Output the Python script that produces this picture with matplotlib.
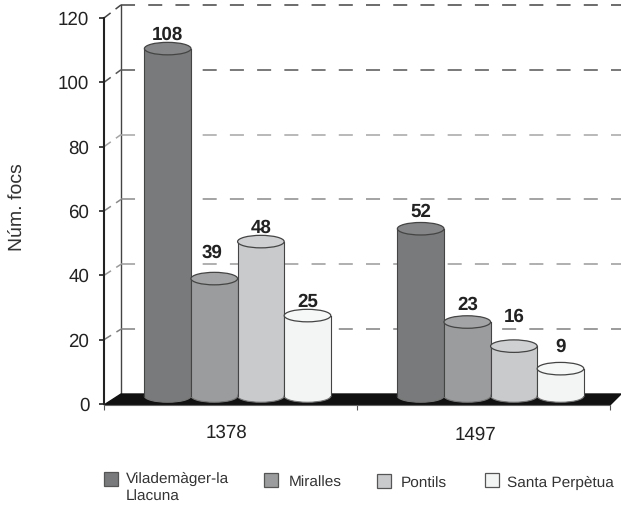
import matplotlib
matplotlib.use("Agg")
import matplotlib.pyplot as plt
from matplotlib.patches import Ellipse, Polygon, Rectangle

plt.rcParams["font.family"] = ["Liberation Sans", "DejaVu Sans"]
plt.rcParams["lines.scale_dashes"] = False
plt.rcParams["text.hinting"] = "none"

years = ["1378", "1497"]
municipalities = ["Vilademàger-la\nLlacuna", "Miralles", "Pontils", "Santa Perpètua"]
# printed numbers
focs_1378 = [108, 39, 48, 25]
focs_1497 = [52, 23, 16, 9]
# height the cylinders really have in the picture (Miralles 1378 is drawn short)
drawn_1378 = [108, 36.5, 48, 25]
drawn_1497 = [52, 23, 15.5, 8.5]
y_ticks = [0, 20, 40, 60, 80, 100, 120]

body_colors = ["#797a7b", "#9b9c9d", "#c9cacc", "#f3f5f4"]
top_colors = ["#858687", "#a3a4a5", "#cfd0d2", "#f6f8f7"]
grid_colors = ["#666666", "#808080", "#9a9a9a", "#8a8a8a", "#a5a5a5", "#555555", "#444444"]

# small label shifts, in pixels (x right, y down)
label_dx = [[0, -2, 0, 0], [0, 0, 0, 0]]
label_dy = [[2, -2, 2, 2], [-1, -1, -12, -4]]

W, H = 621, 507


def fx(px):
    return px / W


def fy(py):
    return 1 - py / H


fig = plt.figure(figsize=(W / 100, H / 100), dpi=100)
ax = fig.add_axes([fx(104), fy(404), 506 / W, 386 / H])
ax.set_xlim(0, 2)
ax.set_ylim(0, 120)

PX_X = 253.0
PX_Y = 386 / 120
depth_x = 17 / PX_X
bar_w = 46.6 / PX_X
lift = 8 / PX_Y
ell_h = 12.5 / PX_Y


def back_y(v):
    return 10 / PX_Y + v * 1.008


# back wall and floor
ax.plot([depth_x, depth_x], [back_y(0), back_y(120)], color="#444444", lw=1, clip_on=False, zorder=1)
ax.add_patch(Polygon([(0, -0.3), (depth_x, back_y(0)), (517 / PX_X, back_y(0)), (2, -0.3)],
                     closed=True, color="#111111", clip_on=False, zorder=2))

# dashed grid, with the slanted bit going back to the axis
for v, c in zip(y_ticks[1:], grid_colors[1:]):
    ax.plot([depth_x, 517 / PX_X], [back_y(v), back_y(v)], color=c, lw=1.1,
            ls=(0, (10.1, 9.5)), clip_on=False, zorder=1)
    ax.plot([0, depth_x], [v, back_y(v)], color=c, lw=1.1,
            ls=(0, (6, 4.5, 6, 100)), clip_on=False, zorder=1)


def cylinder(x0, h, label, i, dx, dy):
    body = body_colors[i]
    edge = "#444444"
    # bottom ellipse, body, top ellipse
    ax.add_patch(Ellipse((x0 + bar_w / 2, lift), bar_w, ell_h, fc=body, ec="#777777", lw=0.8, clip_on=False, zorder=3))
    ax.add_patch(Rectangle((x0, lift), bar_w, h, fc=body, ec="none", clip_on=False, zorder=3))
    ax.plot([x0, x0], [lift, lift + h], color=edge, lw=0.8, clip_on=False, zorder=3)
    ax.plot([x0 + bar_w, x0 + bar_w], [lift, lift + h], color=edge, lw=0.8, clip_on=False, zorder=3)
    ax.add_patch(Ellipse((x0 + bar_w / 2, lift + h), bar_w, ell_h, fc=top_colors[i], ec=edge, lw=0.9, clip_on=False, zorder=4))
    ax.text(x0 + bar_w / 2 + dx / PX_X, lift + label + (16 - dy) / PX_Y, str(label), ha="center", va="center",
            fontsize=13.5, fontweight="bold", color="#222222", zorder=5)


for g, (drawn, printed) in enumerate([(drawn_1378, focs_1378), (drawn_1497, focs_1497)]):
    centre = g + 0.5 + 0.028
    for i in range(4):
        cylinder(centre + (i - 2) * bar_w, drawn[i], printed[i], i, label_dx[g][i], label_dy[g][i])

# axes
for s in ["top", "right"]:
    ax.spines[s].set_visible(False)
ax.spines["left"].set_linewidth(1.5)
ax.spines["left"].set_color("#222222")
ax.spines["bottom"].set_linewidth(0.8)
ax.spines["bottom"].set_color("#666666")
ax.spines["bottom"].set_position(("outward", 1))
ax.patch.set_alpha(0)

ax.set_yticks(y_ticks)
ax.tick_params(axis="y", length=3.6, width=1.2, pad=7, labelsize=13.5, labelcolor="#222222", color="#222222")
ax.set_xticks([0, 1, 2])
ax.set_xticklabels([])
ax.tick_params(axis="x", length=3.6, width=0.8, color="#555555")

for g, (year, nudge, drop) in enumerate(zip(years, [-4, -8], [29, 31])):
    ax.annotate(year, (g + 0.5, 0), xytext=(nudge * 0.72, -drop * 0.72), textcoords="offset points",
                ha="center", va="center", fontsize=13.5, color="#222222")

fig.text(fx(18), fy(207), "Núm. focs", rotation=90, ha="center", va="center", fontsize=14, color="#333333")

# legend, placed by hand because the spacing is uneven
swatch_x = [104, 264, 377, 485]
text_x = [126, 289, 401, 507]
text_y = [488, 482.5, 483.5, 482.5]
swatch_y = [472, 473, 474, 473]
for i, name in enumerate(municipalities):
    fig.add_artist(Rectangle((fx(swatch_x[i]), fy(swatch_y[i] + 14)), 14 / W, 14 / H, transform=fig.transFigure,
                             fc=body_colors[i], ec="#555555", lw=0.9))
    fig.text(fx(text_x[i]), fy(text_y[i]), name, ha="left", va="center", fontsize=11.1,
             color="#333333", linespacing=1.35)

fig.savefig("out.png", dpi=100)
